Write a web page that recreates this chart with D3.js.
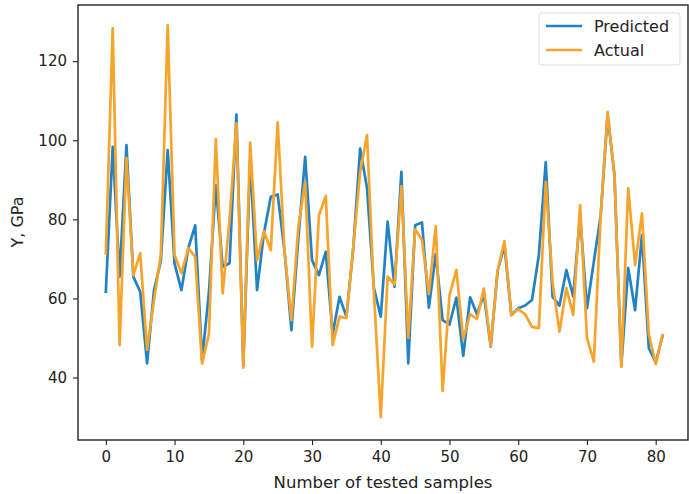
<!DOCTYPE html>
<html>
<head>
<meta charset="utf-8">
<script src="https://cdn.jsdelivr.net/npm/d3@7"></script>
<style>
  html, body { margin: 0; padding: 0; background: #fff; }
  svg { display: block; font-family: "DejaVu Sans", sans-serif; }
</style>
</head>
<body>
<svg id="chart" width="689" height="494"></svg>
<script>
// values, one per tested sample (0..81)
var predicted = [
  61.7, 98.3, 65.5, 98.8, 65.5, 61.7, 43.6, 62.0, 69.5, 97.5,
  68.8, 62.1, 72.7, 78.5, 44.4, 61.5, 88.6, 68.0, 68.9, 106.5,
  43.0, 95.0, 62.1, 76.5, 85.7, 86.3, 72.0, 52.0, 75.0, 95.8,
  69.7, 65.9, 71.8, 51.0, 60.4, 55.4, 72.7, 97.9, 87.9, 62.6,
  55.4, 79.4, 63.0, 92.0, 43.6, 78.5, 79.2, 57.7, 71.2, 54.5,
  53.4, 60.2, 45.5, 60.3, 56.0, 61.0, 47.8, 67.0, 73.3, 55.8,
  57.5, 58.2, 59.6, 71.0, 94.5, 60.4, 58.2, 67.2, 60.5, 81.0,
  57.5, 69.3, 81.0, 106.4, 91.2, 43.0, 67.7, 57.0, 76.0, 47.4,
  43.8, 50.5
];
var actual = [
  71.4, 128.3, 48.2, 95.5, 65.9, 71.4, 47.0, 59.5, 71.0, 129.1,
  71.0, 66.4, 72.7, 70.5, 43.5, 51.0, 100.3, 61.3, 80.0, 104.3,
  42.5, 99.4, 69.7, 77.0, 72.2, 104.5, 72.0, 54.5, 78.0, 89.5,
  47.8, 81.0, 85.9, 48.2, 55.4, 55.0, 73.0, 92.0, 101.3, 61.5,
  30.0, 65.5, 63.5, 88.4, 50.0, 77.5, 74.8, 61.1, 78.3, 36.6,
  60.8, 67.2, 49.8, 56.0, 54.8, 62.5, 48.0, 67.0, 74.5, 55.8,
  57.3, 56.0, 52.8, 52.5, 89.5, 64.0, 51.6, 62.6, 55.8, 83.6,
  50.0, 44.0, 81.0, 107.2, 91.2, 42.7, 87.9, 68.4, 81.5, 51.0,
  43.4, 50.7
];
var seriesNames = ['Predicted', 'Actual'];
var seriesColors = ['#2282c4', '#f6a42c'];
var xTicks = [0, 10, 20, 30, 40, 50, 60, 70, 80];
var yTicks = [40, 60, 80, 100, 120];

var svg = d3.select('#chart');
var box = { left: 78, right: 688, top: 5, bottom: 440 };

var x = d3.scaleLinear().domain([-4.05, 84.7]).range([box.left, box.right]);
var y = d3.scaleLinear().domain([24.2, 134.2]).range([box.bottom, box.top]);

// clip lines to the axes box
svg.append('clipPath').attr('id', 'plotclip')
  .append('rect')
  .attr('x', box.left).attr('y', box.top)
  .attr('width', box.right - box.left).attr('height', box.bottom - box.top);

var line = d3.line()
  .x(function (d, i) { return x(i); })
  .y(function (d) { return y(d); });

var plot = svg.append('g').attr('clip-path', 'url(#plotclip)');
[predicted, actual].forEach(function (vals, k) {
  plot.append('path')
    .datum(vals)
    .attr('d', line)
    .attr('fill', 'none')
    .attr('stroke', seriesColors[k])
    .attr('stroke-width', 2.7)
    .attr('stroke-linejoin', 'round')
    .attr('stroke-linecap', 'square');
});

// axes
var xAxis = svg.append('g')
  .attr('transform', 'translate(0,' + box.bottom + ')')
  .call(d3.axisBottom(x).tickValues(xTicks).tickSize(5).tickPadding(6));
var yAxis = svg.append('g')
  .attr('transform', 'translate(' + box.left + ',0)')
  .call(d3.axisLeft(y).tickValues(yTicks).tickSize(5).tickPadding(6));

[xAxis, yAxis].forEach(function (ax) {
  ax.select('.domain').remove();
  ax.selectAll('line').attr('stroke', '#222').attr('stroke-width', 1.1);
  ax.selectAll('text')
    .attr('fill', '#222')
    .style('font-size', '15px')
    .style('font-family', '"DejaVu Sans", sans-serif');
});

// frame
svg.append('rect')
  .attr('x', box.left).attr('y', box.top)
  .attr('width', box.right - box.left).attr('height', box.bottom - box.top)
  .attr('fill', 'none')
  .attr('stroke', '#222')
  .attr('stroke-width', 1.4);

// axis titles
svg.append('text')
  .attr('x', 383)
  .attr('y', 488)
  .attr('text-anchor', 'middle')
  .attr('fill', '#222')
  .style('font-size', '16.5px')
  .text('Number of tested samples');

svg.append('text')
  .attr('transform', 'translate(23,' + 222 + ') rotate(-90)')
  .attr('text-anchor', 'middle')
  .attr('fill', '#222')
  .style('font-size', '16px')
  .text('Y, GPa');

// legend
var legend = svg.append('g').attr('transform', 'translate(539,13)');
legend.append('rect')
  .attr('width', 141).attr('height', 52)
  .attr('rx', 3)
  .attr('fill', '#fff')
  .attr('fill-opacity', 0.85)
  .attr('stroke', '#ddd');
seriesNames.forEach(function (name, k) {
  var row = legend.append('g').attr('transform', 'translate(0,' + (13 + k * 24) + ')');
  row.append('line')
    .attr('x1', 7).attr('x2', 43)
    .attr('stroke', seriesColors[k])
    .attr('stroke-width', 2.7);
  row.append('text')
    .attr('x', 55).attr('y', 6)
    .attr('fill', '#222')
    .style('font-size', '16px')
    .text(name);
});
</script>
</body>
</html>
